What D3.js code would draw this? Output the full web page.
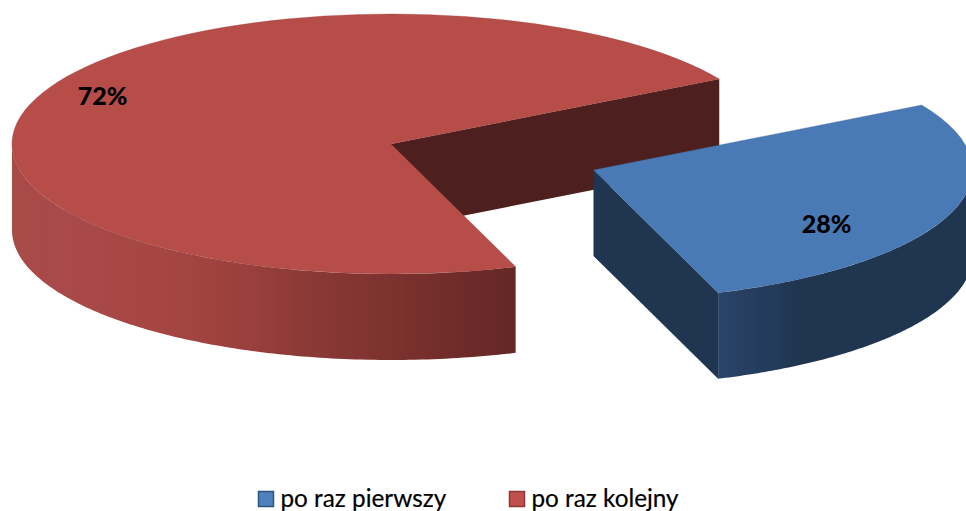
<!DOCTYPE html>
<html><head><meta charset="utf-8">
<script src="https://cdnjs.cloudflare.com/ajax/libs/d3/7.8.5/d3.min.js"></script>
<style>html,body{margin:0;padding:0;background:#fff}svg{display:block}text{font-family:Lato,Carlito,sans-serif}</style>
</head><body><svg id="c" width="966" height="511"></svg>
<script>
const categories = ["po raz pierwszy", "po raz kolejny"];
const shares = [28, 72];
const valueLabels = ["28%", "72%"];

const topColors = ["#4A7AB5", "#B64D49"];
const cutColors = ["#1F3550", "#4D1F1E"];
const legendFill = ["#4F81BD", "#C0504D"];
const legendStroke = ["#2F5380", "#8C3836"];

const W = 966, H = 511, rx = 379, ry = 130, depth = 86, TAU = Math.PI * 2;
const centers = [{x: 593.5, y: 170}, {x: 391, y: 144}];
const labelPos = [{x: 826.5, y: 224}, {x: 102.5, y: 96}];

const svg = d3.select("#c");
const defs = svg.append("defs");
const sideStops = [
  [[719,"#2A4468"],[775,"#233A59"],[800,"#1F3550"],[966,"#1F3550"]],
  [[12,"#A84B47"],[60,"#A9494A"],[160,"#A64642"],[250,"#9A3F3C"],[300,"#8C3A37"],[400,"#7B312E"],[516,"#632725"]]
];
sideStops.forEach((stops, i) => {
  const g = defs.append("linearGradient").attr("id", "side" + i)
    .attr("gradientUnits", "userSpaceOnUse")
    .attr("x1", stops[0][0]).attr("x2", stops[stops.length - 1][0]).attr("y1", 0).attr("y2", 0);
  const sc = d3.scaleLinear().domain([stops[0][0], stops[stops.length - 1][0]]).range([0, 1]);
  stops.forEach(s => g.append("stop").attr("offset", sc(s[0])).attr("stop-color", s[1]));
});

const pie = d3.pie().sort(null).startAngle(Math.PI / 3).endAngle(Math.PI / 3 + TAU);
const slices = pie(shares);
const sx = a => rx * Math.sin(a), sy = a => -ry * Math.cos(a);
const unitArc = d3.arc().innerRadius(0).outerRadius(1);

// Draw the rear slice (red) first, then the pulled-out blue one on top of it
[1, 0].forEach(i => {
  const s = slices[i], c = centers[i];
  const g = svg.append("g").attr("transform", `translate(${c.x},${c.y})`);

  // visible cut face(s): a radial edge extruded downward
  const face = (a, clr) => {
    const d = [[0,0],[sx(a),sy(a)],[sx(a),sy(a)+depth],[0,depth]];
    g.append("path").attr("d", d3.line()(d) + "Z").attr("fill", clr);
  };
  if (i === 1) face(s.endAngle, cutColors[1]);
  if (i === 0) face(s.endAngle, cutColors[0]);

  // outer rim: only the part on the front half of the ellipse
  const a0 = Math.max(s.startAngle, Math.PI / 2);
  const a1 = Math.min(s.endAngle, Math.PI * 1.5);
  const n = 120;
  const angles = d3.range(n + 1).map(k => a0 + (a1 - a0) * k / n);
  const rim = angles.map(a => [sx(a), sy(a)]).concat(angles.slice().reverse().map(a => [sx(a), sy(a) + depth]));
  // gradient is in page x, so shift it into this group's coordinates
  defs.select("#side" + i).attr("gradientTransform", `translate(${-c.x},0)`);
  g.append("path").attr("d", d3.line()(rim) + "Z").attr("fill", `url(#side${i})`);

  // top face: a d3 arc squashed into an ellipse
  g.append("path")
    .attr("transform", `scale(${rx},${ry})`)
    .attr("d", unitArc({startAngle: s.startAngle, endAngle: s.endAngle}))
    .attr("fill", topColors[i])
    .attr("stroke", d3.color(topColors[i]).darker(0.5))
    .attr("stroke-width", 0.5)
    .attr("stroke-opacity", 0.6)
    .attr("vector-effect", "non-scaling-stroke");
});

// value labels
valueLabels.forEach((t, i) => {
  svg.append("text").attr("x", labelPos[i].x).attr("y", labelPos[i].y + 9)
    .attr("text-anchor", "middle").attr("font-size", 25).attr("font-weight", 900)
    .attr("fill", "#000").text(t);
});

// legend
const legendX = [258, 509];
categories.forEach((t, i) => {
  svg.append("rect").attr("x", legendX[i] + 0.5).attr("y", 491.5).attr("width", 15).attr("height", 15)
    .attr("fill", legendFill[i]).attr("stroke", legendStroke[i]).attr("stroke-width", 1.5);
  svg.append("text").attr("x", legendX[i] + 22.5).attr("y", 506.5)
    .attr("font-size", 24.3).attr("fill", "#000").attr("stroke", "#000").attr("stroke-width", 0.2).text(t);
});
</script></body></html>
